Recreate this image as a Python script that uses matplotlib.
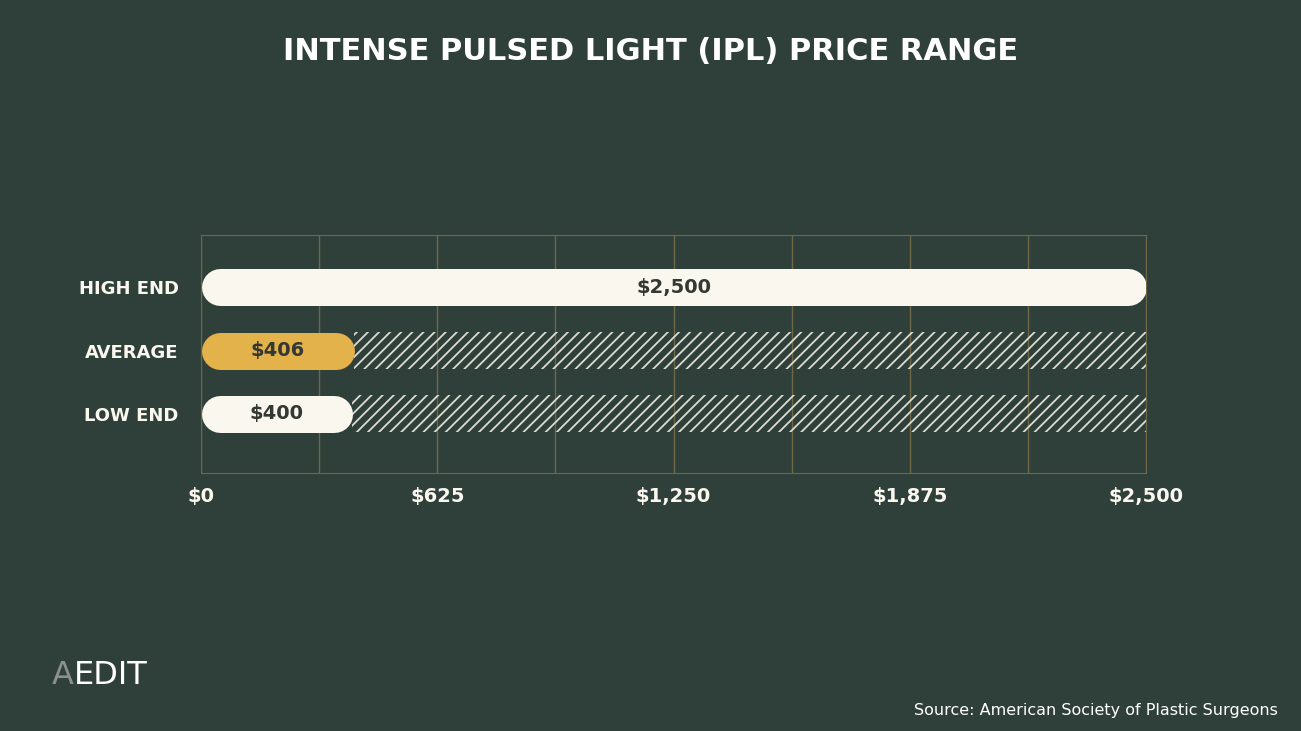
import numpy as np
import matplotlib.pyplot as plt

categories = ["HIGH END", "AVERAGE", "LOW END"]
values = [2500, 406, 400]
value_labels = ["$2,500", "$406", "$400"]
bar_colors = ["#faf7ef", "#e3b24b", "#faf7ef"]
x_max = 2500
tick_vals = [0, 625, 1250, 1875, 2500]
tick_labels = ["$0", "$625", "$1,250", "$1,875", "$2,500"]

BG = "#2f3f3a"
CREAM = "#faf7ef"
GRID = "#6e6846"
DARK = "#333833"

plt.rcParams["hatch.linewidth"] = 1.3
plt.rcParams["hatch.color"] = "#dcdcd2"

fig = plt.figure(figsize=(13.01, 7.31), dpi=100)
fig.patch.set_facecolor(BG)
ax = fig.add_axes([201 / 1301, 1 - 473 / 731, 945 / 1301, 238 / 731])
ax.set_facecolor(BG)

ypos = np.arange(len(categories))[::-1]
ax.set_xlim(0, x_max)
ax.set_ylim(-0.93, 2.82)

# bar thickness in pixels -> points, cap radius in data units
bar_px = 37
lw_pt = bar_px * 72 / 100
ax_w_px = 945
r = (bar_px / 2) * x_max / ax_w_px

for y, v, lab, c in zip(ypos, values, value_labels, bar_colors):
    if v < x_max:
        ax.barh(y, x_max - v, left=v, height=bar_px / 63.5,
                facecolor="none", edgecolor="#dcdcd2", hatch="///",
                linewidth=0, zorder=2)
    ax.plot([r, v - r], [y, y], color=c, linewidth=lw_pt,
            solid_capstyle="round", zorder=3)
    ax.text(v / 2, y, lab, ha="center", va="center", color=DARK,
            fontsize=14, fontweight="bold", zorder=4)

ax.set_xticks(tick_vals)
ax.set_xticks(np.arange(0, x_max + 1, x_max / 8), minor=True)
ax.grid(axis="x", which="both", color=GRID, linewidth=1, zorder=0)
ax.set_xticklabels(tick_labels, color=CREAM, fontsize=14, fontweight="bold")
ax.set_yticks(ypos)
ax.set_yticklabels(categories, color=CREAM, fontsize=13, fontweight="bold")
ax.tick_params(length=0, which="both")
ax.tick_params(axis="x", pad=10)
ax.tick_params(axis="y", pad=16)
for s in ax.spines.values():
    s.set_color(GRID)

fig.text(0.5, 1 - 52 / 731, "INTENSE PULSED LIGHT (IPL) PRICE RANGE",
         ha="center", va="center", color="white", fontsize=22, fontweight="semibold")
fig.text(52 / 1301, 1 - 675 / 731, "A", ha="left", va="center",
         color="#8a918c", fontsize=23)
fig.text(74 / 1301, 1 - 675 / 731, "EDIT", ha="left", va="center",
         color="white", fontsize=23)
fig.text(1278 / 1301, 1 - 710 / 731, "Source: American Society of Plastic Surgeons",
         ha="right", va="center", color="white", fontsize=11.5)

fig.savefig("out.png", dpi=100, facecolor=BG)
